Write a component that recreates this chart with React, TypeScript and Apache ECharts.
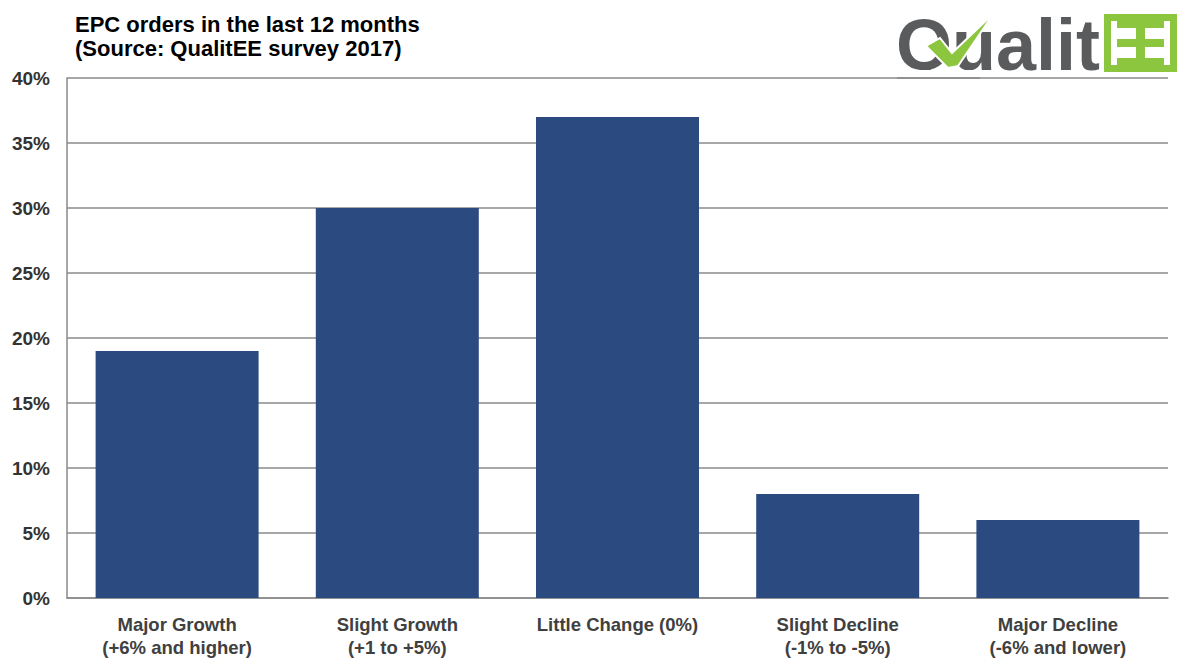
import React, { useEffect, useRef } from "react";
import * as echarts from "echarts";

const categories = [
  "Major Growth\n(+6% and higher)",
  "Slight Growth\n(+1 to +5%)",
  "Little Change (0%)",
  "Slight Decline\n(-1% to -5%)",
  "Major Decline\n(-6% and lower)",
];
const values = [19, 30, 37, 8, 6];
const titleLines = ["EPC orders in the last 12 months", "(Source: QualitEE survey 2017)"];

const FONT = "'Liberation Sans', Arial, sans-serif";
const GREEN = "#8CC63F";
const GRAY = "#5A5B5D";
const GRID = "#8a8a8a";

export default function App() {
  const ref = useRef<HTMLDivElement>(null);
  useEffect(() => {
    const chart = echarts.init(ref.current!, null, { renderer: "svg" });
    chart.setOption({
      animation: false,
      grid: { left: 67, right: 9, top: 78, bottom: 58 },
      xAxis: {
        type: "category",
        data: categories,
        axisTick: { show: false },
        axisLine: { show: true, lineStyle: { color: GRID, width: 1.5 } },
        axisLabel: {
          interval: 0,
          margin: 15,
          fontFamily: FONT,
          fontWeight: "bold",
          fontSize: 18.5,
          color: "#404040",
          lineHeight: 23,
          align: "center",
        },
      },
      yAxis: {
        type: "value",
        min: 0,
        max: 40,
        interval: 5,
        axisLine: { show: true, lineStyle: { color: GRID, width: 1.5 } },
        axisTick: { show: false },
        splitLine: { show: true, lineStyle: { color: GRID, width: 1.5 } },
        axisLabel: {
          formatter: "{value}%",
          margin: 17,
          fontFamily: FONT,
          fontWeight: "bold",
          fontSize: 19,
          color: "#333333",
        },
      },
      series: [
        {
          type: "bar",
          data: values,
          barWidth: 163,
          itemStyle: { color: "#2A4A80" },
        },
      ],
      graphic: [
        {
          type: "text",
          x: 75,
          y: 12,
          style: {
            text: titleLines.join("\n"),
            font: `bold 22px ${FONT}`,
            lineHeight: 24,
            fill: "#000000",
          },
        },
        {
          type: "text",
          x: 896,
          y: 9,
          style: {
            text: "Qualit",
            font: `bold 72px ${FONT}`,
            fill: GRAY,
          },
        },
        {
          type: "rect",
          shape: { x: 898, y: 70, width: 80, height: 18 },
          style: { fill: "#ffffff" },
        },
        {
          type: "line",
          shape: { x1: 897, y1: 78, x2: 980, y2: 78 },
          style: { stroke: GRID, lineWidth: 1.5 },
        },
        {
          type: "polygon",
          shape: {
            points: [
              [926, 46],
              [940, 38],
              [952, 53],
              [994, 13],
              [958, 66],
              [948, 68],
            ],
          },
          style: { fill: GREEN, stroke: "#ffffff", lineWidth: 2 },
        },
        {
          type: "group",
          children: [
            { type: "rect", shape: { x: 1104, y: 14, width: 73, height: 58 }, style: { fill: GREEN } },
            { type: "rect", shape: { x: 1111, y: 21, width: 59, height: 44 }, style: { fill: "#ffffff" } },
            { type: "rect", shape: { x: 1136, y: 21, width: 9, height: 44 }, style: { fill: GREEN } },
            { type: "rect", shape: { x: 1117, y: 21, width: 47, height: 7 }, style: { fill: GREEN } },
            { type: "rect", shape: { x: 1117, y: 39, width: 47, height: 8 }, style: { fill: GREEN } },
            { type: "rect", shape: { x: 1117, y: 58, width: 47, height: 7 }, style: { fill: GREEN } },
          ],
        },
      ],
    });
    return () => chart.dispose();
  }, []);
  return (
    <div
      ref={ref}
      style={{ position: "fixed", left: 0, top: 0, width: 1177, height: 659, background: "#ffffff" }}
    />
  );
}
